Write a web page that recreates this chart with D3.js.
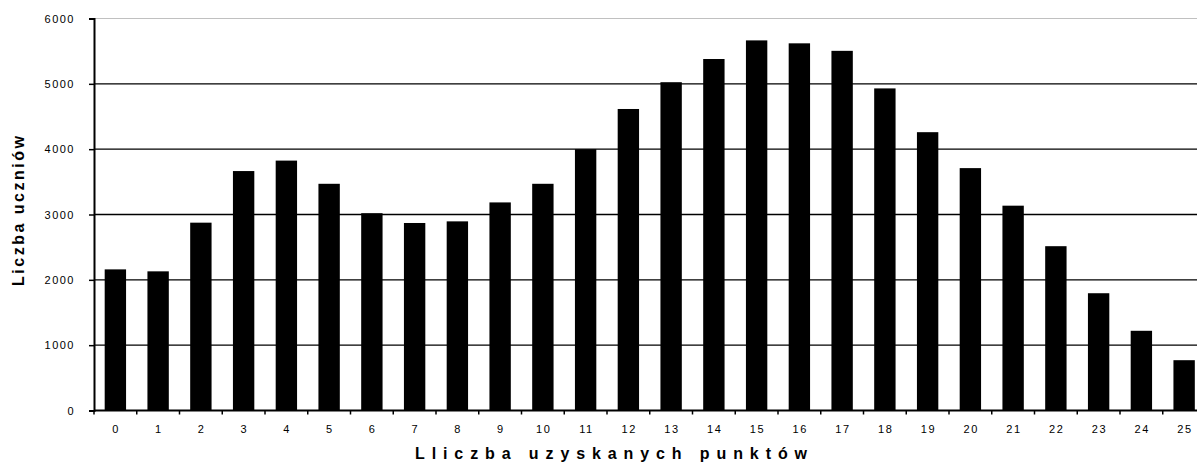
<!DOCTYPE html>
<html>
<head>
<meta charset="utf-8">
<script src="https://cdn.jsdelivr.net/npm/d3@7"></script>
<style>
  body { margin: 0; background: #fff; }
  text { font-family: "Liberation Sans", Arial, sans-serif; fill: #000; }
</style>
</head>
<body>
<div id="chart"></div>
<script>
// Set up conventions
let width = 1197;
let height = 466;
let margin = ({top: 18.5, left: 94, bottom: 55.5});

// data
let points = d3.range(0, 26).map(String);
let students = [2160, 2130, 2875, 3665, 3825, 3470, 3020, 2870, 2895, 3185,
                3470, 4000, 4615, 5025, 5380, 5665, 5620, 5505, 4930, 4260,
                3710, 3135, 2515, 1795, 1220, 770];
let yTicks = [0, 1000, 2000, 3000, 4000, 5000, 6000];

let svg = d3.select("#chart")
    .append("svg")
    .attr("width", width)
    .attr("height", height)

// band width ~42.75px, plot runs past the right edge of the picture
let xScale = d3.scaleBand()
    .domain(points)
    .range([margin.left, margin.left + 26 * 42.75])
    .paddingInner(0.5)
    .paddingOuter(0.25)

let yScale = d3.scaleLinear()
    .domain([0, 6000])
    .range([height - margin.bottom, margin.top])

// gridlines
svg.append("g")
    .selectAll("line")
    .data(yTicks.filter(d => d > 0))
    .enter()
    .append("line")
    .attr("x1", margin.left)
    .attr("x2", width)
    .attr("y1", d => yScale(d))
    .attr("y2", d => yScale(d))
    .attr("stroke", d => d === 6000 ? "#c0c0c0" : "#000")
    .attr("stroke-width", d => d === 6000 ? 1 : 1.3)

// bars
svg.append("g")
    .selectAll("rect")
    .data(students)
    .enter()
    .append("rect")
    .attr("x", (d, i) => xScale(points[i]))
    .attr("width", xScale.bandwidth())
    .attr("y", d => yScale(d))
    .attr("height", d => yScale(0) - yScale(d))
    .attr("fill", "#000")

// y axis
let yAxis = d3.axisLeft(yScale).tickValues(yTicks).tickFormat(d3.format("d")).tickSize(5).tickPadding(14)
svg.append("g")
    .attr("class", "yaxis")
    .attr("transform", "translate(" + margin.left + ",0)")
    .call(yAxis)
    .call(g => g.select(".domain").attr("stroke-width", 2))
    .call(g => g.selectAll(".tick line").attr("stroke-width", 1.5))
    .call(g => g.selectAll("text")
        .attr("font-size", 11)
        .attr("letter-spacing", "1.5px")
        .attr("font-family", "Liberation Sans, Arial, sans-serif"))

// x axis: ticks sit between the categories
let x0 = yScale(0)
svg.append("line")
    .attr("x1", margin.left)
    .attr("x2", width)
    .attr("y1", x0)
    .attr("y2", x0)
    .attr("stroke", "#000")
    .attr("stroke-width", 2)

let step = xScale.step()
svg.append("g")
    .selectAll("line")
    .data(points)
    .enter()
    .append("line")
    .attr("x1", (d, i) => xScale(d) - step * 0.25)
    .attr("x2", (d, i) => xScale(d) - step * 0.25)
    .attr("y1", x0)
    .attr("y2", x0 + 4)
    .attr("stroke", "#000")
    .attr("stroke-width", 1.5)

svg.append("g")
    .selectAll("text")
    .data(points)
    .enter()
    .append("text")
    .attr("x", d => xScale(d) + xScale.bandwidth() / 2 + 0.8)
    .attr("y", x0 + 22)
    .attr("text-anchor", "middle")
    .attr("font-size", 11)
    .attr("letter-spacing", "1.5px")
    .text(d => d)

// axis titles
svg.append("text")
    .attr("transform", "translate(24,286) rotate(-90)")
    .attr("font-size", 16)
    .attr("font-weight", "bold")
    .attr("textLength", 150)
    .attr("lengthAdjust", "spacing")
    .text("Liczba uczniów")

svg.append("text")
    .attr("x", 415)
    .attr("y", 459)
    .attr("font-size", 16)
    .attr("font-weight", "bold")
    .attr("textLength", 392)
    .attr("lengthAdjust", "spacing")
    .text("Lliczba uzyskanych punktów")
</script>
</body>
</html>
